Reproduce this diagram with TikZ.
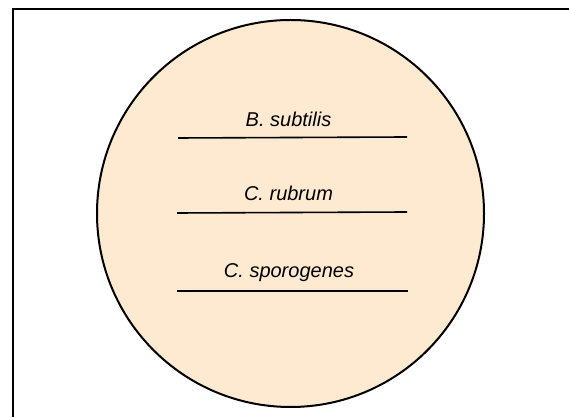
\documentclass[tikz,border=0pt]{standalone}
\usepackage{fontspec}
\setmainfont{Liberation Sans}
\usepackage{tikz}
\usepackage{xcolor}
\definecolor{agar}{RGB}{254,233,209}

\begin{document}
\begin{tikzpicture}[x=1pt,y=1pt]
  \tikzset{streak/.style={line width=1.6pt}, strain/.style={anchor=base, inner sep=0pt, font=\fontsize{20}{24}\selectfont\itshape}}
  \useasboundingbox (0,0) rectangle (569,417);
  \draw[line width=2.6pt] (13,0) -- (13,408) -- (569,408);
  \draw[line width=2pt, fill=agar] (290.5,203.5) circle (193.5);
  \node[strain] (bs) at (288.5,290) {B. subtilis}; \draw[streak] (178,279) -- (407,280);
  \node[strain] (cr) at (288.5,216) {C. rubrum}; \draw[streak] (177,204) -- (407,205);
  \node[strain] (cs) at (289,139) {C. sporogenes}; \draw[streak] (177,126) -- (408,126);
\end{tikzpicture}
\end{document}
